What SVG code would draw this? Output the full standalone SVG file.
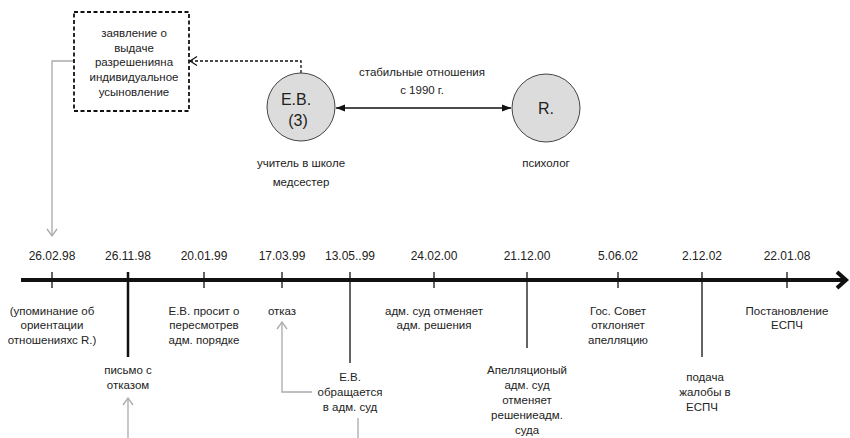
<svg xmlns="http://www.w3.org/2000/svg" width="850" height="438" viewBox="0 0 850 438">
<defs>
<style>
text{font-family:"Liberation Sans",Arial,sans-serif;fill:#222;text-anchor:middle}
.t{font-size:11.5px}
.d{font-size:12px}
.big{font-size:16px}
.tick{stroke:#111;stroke-width:1.3}
.gray{stroke:#aaa;stroke-width:1.3;fill:none}
.node{fill:#dcdcdc;stroke:#444;stroke-width:1}
</style>
<marker id="grayHead" markerWidth="12" markerHeight="12" refX="10" refY="6" orient="auto" markerUnits="userSpaceOnUse" viewBox="0 0 12 12">
<path d="M3,1 L10,6 L3,11" fill="none" stroke="#aaa" stroke-width="1.3"/>
</marker>
<marker id="dashHead" markerWidth="12" markerHeight="12" refX="10" refY="6" orient="auto" markerUnits="userSpaceOnUse" viewBox="0 0 12 12">
<path d="M3,1.5 L10,6 L3,10.5" fill="none" stroke="#111" stroke-width="1.2"/>
</marker>
<marker id="solidHead" markerWidth="10" markerHeight="10" refX="9" refY="5" orient="auto-start-reverse" markerUnits="userSpaceOnUse" viewBox="0 0 10 10">
<path d="M0,1.5 L9,5 L0,8.5 Z" fill="#111"/>
</marker>
</defs>

<g id="connectors">
<path d="M301,73 V61 H190" fill="none" stroke="#111" stroke-width="1.3" stroke-dasharray="3,2" marker-end="url(#dashHead)"/>
<line x1="336" y1="108" x2="511" y2="108" stroke="#111" stroke-width="1.3" marker-start="url(#solidHead)" marker-end="url(#solidHead)"/>
<path d="M74,61 H52 V236" class="gray" marker-end="url(#grayHead)"/>
<line x1="21" y1="280" x2="846" y2="280" stroke="#111" stroke-width="4"/>
<path d="M837,272 L846,280 L837,288" fill="none" stroke="#111" stroke-width="4"/>
<line class="tick" x1="52" y1="272" x2="52" y2="288"/>
<line class="tick" x1="128" y1="272" x2="128" y2="357" style="stroke-width:2.5"/>
<line class="tick" x1="204" y1="272" x2="204" y2="288"/>
<line class="tick" x1="282" y1="272" x2="282" y2="288"/>
<line class="tick" x1="350" y1="272" x2="350" y2="363"/>
<line class="tick" x1="434" y1="272" x2="434" y2="288"/>
<line class="tick" x1="527" y1="272" x2="527" y2="348"/>
<line class="tick" x1="618" y1="272" x2="618" y2="288"/>
<line class="tick" x1="702" y1="272" x2="702" y2="357"/>
<line class="tick" x1="787" y1="272" x2="787" y2="288"/>
<path d="M128,438 V398" class="gray" marker-end="url(#grayHead)"/>
<path d="M312,392 H282 V322" class="gray" marker-end="url(#grayHead)"/>
<line x1="358" y1="418" x2="358" y2="438" class="gray"/>
</g>

<g id="box">
<rect x="74" y="12" width="115" height="99" fill="none" stroke="#111" stroke-width="1.8" stroke-dasharray="4,2.5"/>
<text class="t" x="134" y="37">заявление о</text>
<text class="t" x="134" y="52">выдаче</text>
<text class="t" x="134" y="66">разрешенияна</text>
<text class="t" x="134" y="81">индивидуальное</text>
<text class="t" x="134" y="96">усыновление</text>
</g>

<g id="ev">
<circle class="node" cx="301" cy="107" r="34"/>
<text class="big" x="296" y="105">Е.В.</text>
<text class="big" x="298" y="126">(3)</text>
<text class="t" x="301" y="167">учитель  в школе</text>
<text class="t" x="301" y="186">медсестер</text>
</g>

<g id="r">
<circle class="node" cx="546" cy="108" r="34"/>
<text class="big" x="546" y="114">R.</text>
<text class="t" x="546" y="167">психолог</text>
</g>

<g id="relation">
<text class="t" x="422" y="76">стабильные  отношения</text>
<text class="t" x="422" y="94">с 1990  г.</text>
</g>

<g id="dates">
<text class="d" x="52" y="260">26.02.98</text>
<text class="d" x="128" y="260">26.11.98</text>
<text class="d" x="204" y="260">20.01.99</text>
<text class="d" x="282" y="260">17.03.99</text>
<text class="d" x="350" y="260">13.05..99</text>
<text class="d" x="434" y="260">24.02.00</text>
<text class="d" x="527" y="260">21.12.00</text>
<text class="d" x="618" y="260">5.06.02</text>
<text class="d" x="702" y="260">2.12.02</text>
<text class="d" x="787" y="260">22.01.08</text>
</g>

<g id="e1">
<text class="t" x="52" y="315">(упоминание об</text>
<text class="t" x="52" y="329">ориентации</text>
<text class="t" x="52" y="344">отношенияхс R.)</text>
</g>
<g id="e2">
<text class="t" x="128" y="374">письмо с</text>
<text class="t" x="128" y="389">отказом</text>
</g>
<g id="e3">
<text class="t" x="204" y="315">Е.В.  просит о</text>
<text class="t" x="204" y="329">пересмотрев</text>
<text class="t" x="204" y="344">адм. порядке</text>
</g>
<g id="e4">
<text class="t" x="282" y="315">отказ</text>
</g>
<g id="e5">
<text class="t" x="350" y="381">Е.В.</text>
<text class="t" x="350" y="396">обращается</text>
<text class="t" x="350" y="411">в адм. суд</text>
</g>
<g id="e6">
<text class="t" x="434" y="315">адм. суд  отменяет</text>
<text class="t" x="434" y="329">адм. решения</text>
</g>
<g id="e7">
<text class="t" x="527" y="374">Апелляционый</text>
<text class="t" x="527" y="389">адм. суд</text>
<text class="t" x="527" y="404">отменяет</text>
<text class="t" x="527" y="419">решениеадм.</text>
<text class="t" x="527" y="434">суда</text>
</g>
<g id="e8">
<text class="t" x="618" y="315">Гос. Совет</text>
<text class="t" x="618" y="329">отклоняет</text>
<text class="t" x="618" y="344">апелляцию</text>
</g>
<g id="e9">
<text class="t" x="705" y="381">подача</text>
<text class="t" x="705" y="396">жалобы в</text>
<text class="t" x="702" y="411">ЕСПЧ</text>
</g>
<g id="e10">
<text class="t" x="787" y="315">Постановление</text>
<text class="t" x="787" y="329">ЕСПЧ</text>
</g>
</svg>
